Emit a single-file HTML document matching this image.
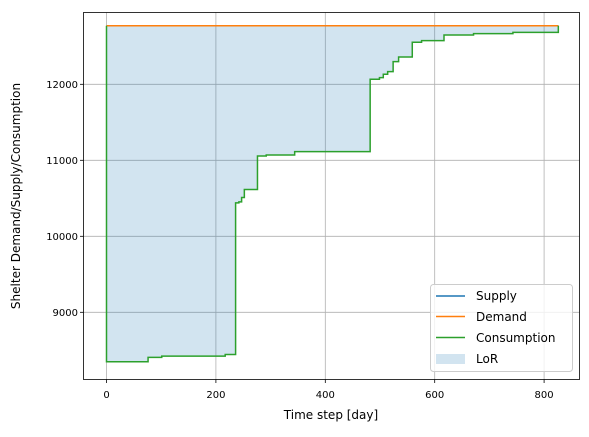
<!DOCTYPE html>
<html><head><meta charset="utf-8"><style>
body{margin:0;background:#fff}
svg{font-family:"DejaVu Sans","Liberation Sans",sans-serif}
</style></head><body>
<svg id="chart" width="589" height="432" xmlns="http://www.w3.org/2000/svg">
<g id="grid"></g>
<path id="lor" fill="#1f77b4" fill-opacity="0.2" stroke="none"/>
<path id="supply" fill="none" stroke="#1f77b4" stroke-width="1.5"/>
<path id="demand" fill="none" stroke="#ff7f0e" stroke-width="1.5"/>
<path id="cons" fill="none" stroke="#2ca02c" stroke-width="1.5"/>
<rect x="83.5" y="12.5" width="496" height="367" fill="none" stroke="#000" stroke-width="0.8"/>
<g id="ticks"></g>
<text x="331" y="419" font-size="12" text-anchor="middle">Time step [day]</text>
<text transform="translate(20,196) rotate(-90)" font-size="12" text-anchor="middle">Shelter Demand/Supply/Consumption</text>
<g>
<rect x="430.5" y="284.5" width="142" height="87" rx="3" fill="#fff" fill-opacity="0.8" stroke="#ccc"/>
<line x1="436" y1="296" x2="465" y2="296" stroke="#1f77b4" stroke-width="1.5"/>
<text x="476" y="300" font-size="12">Supply</text>
<line x1="436" y1="316.5" x2="465" y2="316.5" stroke="#ff7f0e" stroke-width="1.5"/>
<text x="476" y="321" font-size="12">Demand</text>
<line x1="436" y1="337.5" x2="465" y2="337.5" stroke="#2ca02c" stroke-width="1.5"/>
<text x="476" y="342" font-size="12">Consumption</text>
<rect x="436" y="354" width="29" height="10" fill="#1f77b4" fill-opacity="0.2"/>
<text x="476" y="363" font-size="12">LoR</text>
</g>
</svg>
<script>
const xTicks=[0,200,400,600,800];
const yTicks=[9000,10000,11000,12000];
const stepDays=[0,76,101,217,236,242,247,252,276,292,344,482,499,506,514,524,534,559,576,617,671,743,826];
const consValues=[8350,8407,8424,8445,10440,10453,10510,10615,11057,11070,11114,12066,12088,12132,12167,12298,12360,12553,12575,12649,12667,12684,12770];
const demandValue=12770;
const supplyValue=12770;
const endDay=826;
const X=d=>106.5+d*(109.4/200);
const Y=v=>84.3+(12000-v)*0.076;
const ns="http://www.w3.org/2000/svg";
const grid=document.getElementById('grid'),ticks=document.getElementById('ticks');
function mk(tag,attrs,parent){const e=document.createElementNS(ns,tag);for(const k in attrs)e.setAttribute(k,attrs[k]);parent.appendChild(e);return e;}
xTicks.forEach(t=>{const x=X(t);
const g=mk('line',{x1:x,x2:x,y1:12.5,y2:379.5,stroke:'#b0b0b0','stroke-width':0.8},grid);


mk('line',{x1:x,x2:x,y1:379.5,y2:383,stroke:'#000','stroke-width':0.8},ticks);
const tx=mk('text',{x:x,y:398,'font-size':10,'text-anchor':'middle'},ticks);tx.textContent=t;

});
yTicks.forEach(t=>{const y=Y(t);
const g=mk('line',{x1:83.5,x2:579.5,y1:y,y2:y,stroke:'#b0b0b0','stroke-width':0.8},grid);


mk('line',{x1:80,x2:83.5,y1:y,y2:y,stroke:'#000','stroke-width':0.8},ticks);
const tx=mk('text',{x:78,y:y+3.5,'font-size':10,'text-anchor':'end'},ticks);tx.textContent=t;

});
let d='M'+X(0)+','+Y(demandValue);
for(let i=0;i<stepDays.length;i++){
 d+=' L'+X(stepDays[i])+','+Y(consValues[i]);
 const next=i+1<stepDays.length?stepDays[i+1]:endDay;
 d+=' L'+X(next)+','+Y(consValues[i]);
}
document.getElementById('cons').setAttribute('d',d);
document.getElementById('lor').setAttribute('d',d+' L'+X(endDay)+','+Y(demandValue)+' Z');
document.getElementById('demand').setAttribute('d','M'+X(0)+','+Y(demandValue)+' L'+X(endDay)+','+Y(demandValue));
document.getElementById('supply').setAttribute('d','M'+X(0)+','+Y(supplyValue)+' L'+X(endDay)+','+Y(supplyValue));
</script>
</body></html>
